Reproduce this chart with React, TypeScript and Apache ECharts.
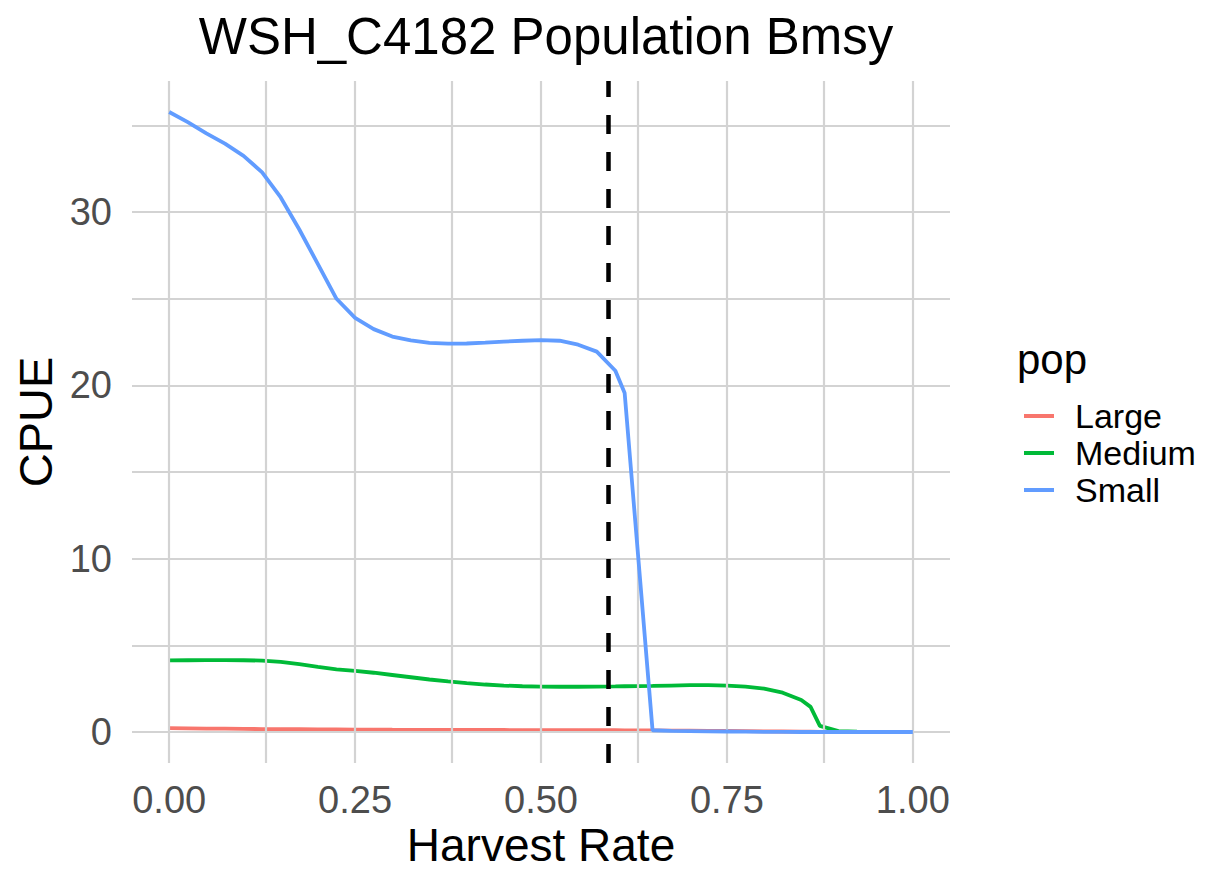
import React, { useEffect, useRef } from "react";
import * as echarts from "echarts";

const harvestRate = [
  0, 0.025, 0.05, 0.075, 0.1, 0.125, 0.15, 0.175, 0.2, 0.225, 0.25, 0.275, 0.3, 0.325, 0.35, 0.375,
  0.4, 0.425, 0.45, 0.475, 0.5, 0.525, 0.55, 0.575, 0.6, 0.6125, 0.65, 0.675, 0.7, 0.725, 0.75,
  0.775, 0.8, 0.825, 0.85, 0.8625, 0.875, 0.9, 0.925, 0.95, 0.975, 1.0,
];

const largeCPUE = [
  0.22, 0.21, 0.2, 0.19, 0.18, 0.17, 0.165, 0.16, 0.155, 0.15, 0.14, 0.135, 0.13, 0.128, 0.125, 0.12,
  0.118, 0.116, 0.114, 0.112, 0.11, 0.108, 0.106, 0.104, 0.1, 0.098, 0.09, 0.08, 0.075, 0.068, 0.06,
  0.05, 0.04, 0.03, 0.02, 0.015, 0.01, 0.0, 0.0, 0.0, 0.0, 0.0,
];

const mediumCPUE = [
  4.13, 4.14, 4.15, 4.15, 4.14, 4.12, 4.05, 3.92, 3.76, 3.62, 3.53, 3.42, 3.29, 3.16, 3.03, 2.92,
  2.82, 2.74, 2.68, 2.64, 2.62, 2.61, 2.61, 2.62, 2.63, 2.64, 2.66, 2.68, 2.7, 2.7, 2.68,
  2.62, 2.5, 2.27, 1.85, 1.45, 0.35, 0.05, 0.02, 0.01, 0.0, 0.0,
];

const smallCPUE = [
  35.78, 35.2, 34.55, 33.95, 33.25, 32.3, 30.85, 29.0, 27.0, 25.0, 23.9, 23.25, 22.82, 22.6, 22.46, 22.41,
  22.42, 22.47, 22.53, 22.58, 22.62, 22.58, 22.35, 21.95, 20.85, 19.56, 0.1, 0.06, 0.05, 0.04, 0.03,
  0.02, 0.01, 0.01, 0.0, 0.0, 0.0, 0.0, 0.0, 0.0, 0.0, 0.0,
];

const seriesNames = ["Large", "Medium", "Small"];
const seriesColors = ["#F8766D", "#00BA38", "#619CFF"];
const seriesValues = [largeCPUE, mediumCPUE, smallCPUE];

const xTickLabels = [0, 0.25, 0.5, 0.75, 1.0];
const xGridValues = [0, 0.125, 0.25, 0.375, 0.5, 0.625, 0.75, 0.875, 1.0];
const yTickLabels = [0, 10, 20, 30];
const yGridValues = [0, 5, 10, 15, 20, 25, 30, 35];
const bmsyRate = 0.5925;

const FONT = "'Liberation Sans', Arial, Helvetica, sans-serif";

export default function App() {
  const ref = useRef<HTMLDivElement>(null);

  useEffect(() => {
    document.body.style.margin = "0";
    if (!ref.current) return;
    const chart = echarts.init(ref.current, null, { renderer: "svg" });

    const yMaxData = Math.max(...smallCPUE);
    const pad = yMaxData * 0.05;

    const gridLineStyle = { color: "#d3d3d3", width: 2.2, type: "solid" as const };

    const option: any = {
      animation: false,
      backgroundColor: "#ffffff",
      textStyle: { fontFamily: FONT },
      title: {
        text: "WSH_C4182 Population Bmsy",
        left: 541,
        textAlign: "center",
        top: 6,
        textStyle: { fontSize: 51, fontWeight: "normal", color: "#000", fontFamily: FONT },
      },
      grid: { left: 132, right: 258, top: 81, bottom: 109, containLabel: false },
      legend: {
        orient: "vertical",
        left: 1019,
        top: 394,
        itemWidth: 30,
        itemHeight: 4,
        itemGap: 3,
        icon: "rect",
        data: seriesNames,
        textStyle: { fontSize: 34, color: "#000", fontFamily: FONT, padding: [0, 0, 0, 16] },
        selectedMode: false,
      },
      xAxis: {
        type: "value",
        min: -0.05,
        max: 1.05,
        axisLine: { show: false },
        axisTick: { show: false },
        splitLine: { show: false },
        axisLabel: {
          customValues: xTickLabels,
          formatter: (v: number) => v.toFixed(2),
          fontSize: 38,
          color: "#4d4d4d",
          margin: 18,
          fontFamily: FONT,
        },
      },
      yAxis: {
        type: "value",
        min: -pad,
        max: yMaxData + pad,
        axisLine: { show: false },
        axisTick: { show: false },
        splitLine: { show: false },
        axisLabel: {
          customValues: yTickLabels,
          formatter: (v: number) => String(v),
          fontSize: 38,
          color: "#4d4d4d",
          margin: 20,
          fontFamily: FONT,
        },
      },
      graphic: [
        {
          type: "text",
          x: 541,
          y: 845,
          style: {
            text: "Harvest Rate",
            font: `46px ${FONT}`,
            lineHeight: 46,
            fill: "#000",
            align: "center",
            verticalAlign: "middle",
          },
        },
        {
          type: "text",
          x: 35,
          y: 422,
          rotation: Math.PI / 2,
          style: {
            text: "CPUE",
            font: `47px ${FONT}`,
            fill: "#000",
            align: "center",
            verticalAlign: "middle",
          },
        },
        {
          type: "text",
          x: 1017,
          y: 359,
          style: {
            text: "pop",
            font: `42px ${FONT}`,
            fill: "#000",
            align: "left",
            verticalAlign: "middle",
          },
        },
      ],
      series: [
        {
          name: "grid",
          type: "line",
          data: [],
          z: 1,
          silent: true,
          markLine: {
            silent: true,
            symbol: ["none", "none"],
            label: { show: false },
            emphasis: { disabled: true },
            lineStyle: gridLineStyle,
            data: [
              ...xGridValues.map((v) => ({ xAxis: v })),
              ...yGridValues.map((v) => ({ yAxis: v })),
            ],
          },
        },
        ...seriesNames.map((name, i) => ({
          name,
          type: "line",
          z: 3 + i,
          showSymbol: false,
          symbol: "none",
          lineStyle: { color: seriesColors[i], width: 3.8 },
          itemStyle: { color: seriesColors[i] },
          data: harvestRate.map((x, j) => [x, seriesValues[i][j]]),
        })),
        {
          name: "bmsy",
          type: "line",
          data: [],
          z: 10,
          silent: true,
          markLine: {
            silent: true,
            symbol: ["none", "none"],
            label: { show: false },
            emphasis: { disabled: true },
            lineStyle: { color: "#000", width: 4.5, type: [19, 18] },
            data: [{ xAxis: bmsyRate }],
          },
        },
      ],
    };

    chart.setOption(option);
    return () => chart.dispose();
  }, []);

  return <div ref={ref} style={{ width: 1208, height: 872 }} />;
}
